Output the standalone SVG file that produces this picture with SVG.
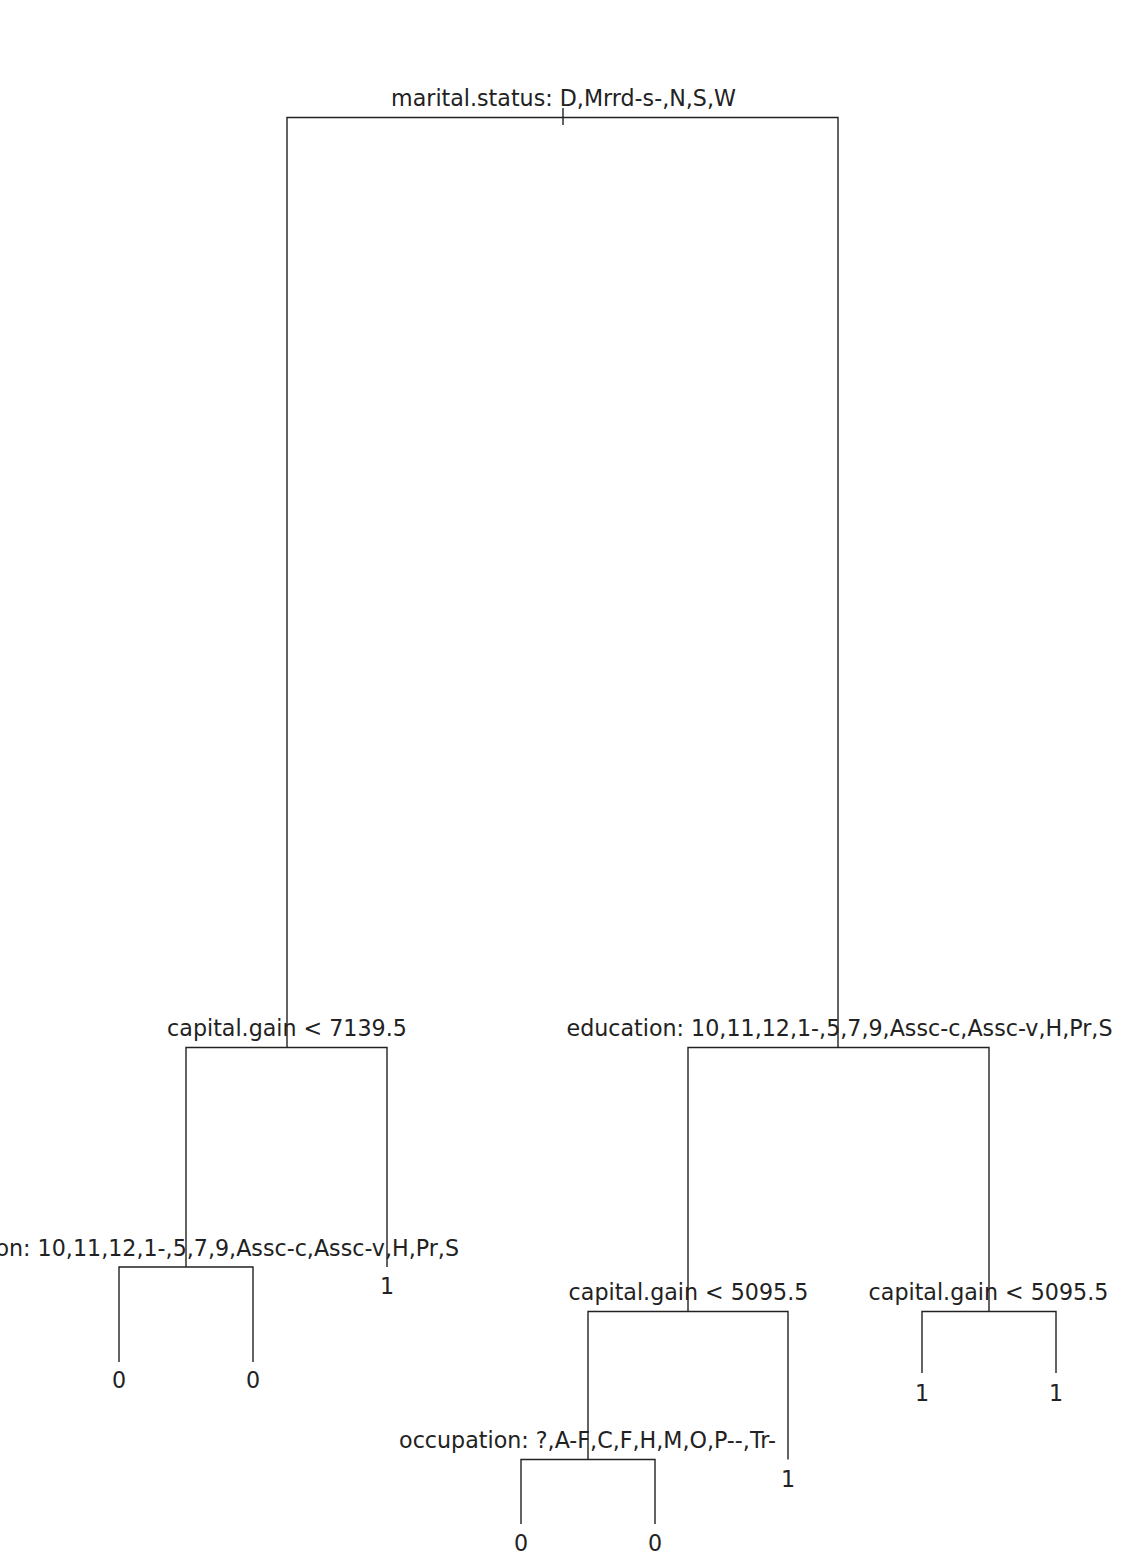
<svg xmlns="http://www.w3.org/2000/svg" width="1129" height="1564" viewBox="0 0 1129 1564">
<style>
.lbl{font-family:"DejaVu Sans","Liberation Sans",sans-serif;font-size:22.2px;fill:#222;text-anchor:middle}
.edge{fill:none;stroke:#222;stroke-width:1.4}
</style>
<rect width="1129" height="1564" fill="#fff"/>
<g id="connectors" class="edge">
<path d="M563,108V125"/>
<path d="M287,1047.5V117.5H838V1047.5"/>
<path d="M186,1267V1047.5H387V1267"/>
<path d="M688,1311.5V1047.5H989V1311.5"/>
<path d="M119,1362V1267H253V1362"/>
<path d="M588,1459.5V1311.5H788V1459.5"/>
<path d="M922,1373V1311.5H1056V1373"/>
<path d="M521,1524V1459.5H655V1524"/>
</g>
<g id="n1"><text class="lbl" x="563.5" y="106">marital.status: D,Mrrd-s-,N,S,W</text></g>
<g id="n2"><text class="lbl" x="287" y="1036">capital.gain &lt; 7139.5</text></g>
<g id="n3"><text class="lbl" x="839.5" y="1036">education: 10,11,12,1-,5,7,9,Assc-c,Assc-v,H,Pr,S</text></g>
<g id="n4"><text class="lbl" x="186" y="1256">education: 10,11,12,1-,5,7,9,Assc-c,Assc-v,H,Pr,S</text></g>
<g id="n5"><text class="lbl" x="387" y="1294">1</text></g>
<g id="n6"><text class="lbl" x="119" y="1388">0</text></g>
<g id="n7"><text class="lbl" x="253" y="1388">0</text></g>
<g id="n8"><text class="lbl" x="688.5" y="1300">capital.gain &lt; 5095.5</text></g>
<g id="n9"><text class="lbl" x="988.5" y="1300">capital.gain &lt; 5095.5</text></g>
<g id="n10"><text class="lbl" x="587.5" y="1448">occupation: ?,A-F,C,F,H,M,O,P--,Tr-</text></g>
<g id="n11"><text class="lbl" x="788" y="1487">1</text></g>
<g id="n12"><text class="lbl" x="922" y="1401">1</text></g>
<g id="n13"><text class="lbl" x="1056" y="1401">1</text></g>
<g id="n14"><text class="lbl" x="521" y="1551">0</text></g>
<g id="n15"><text class="lbl" x="655" y="1551">0</text></g>
</svg>
